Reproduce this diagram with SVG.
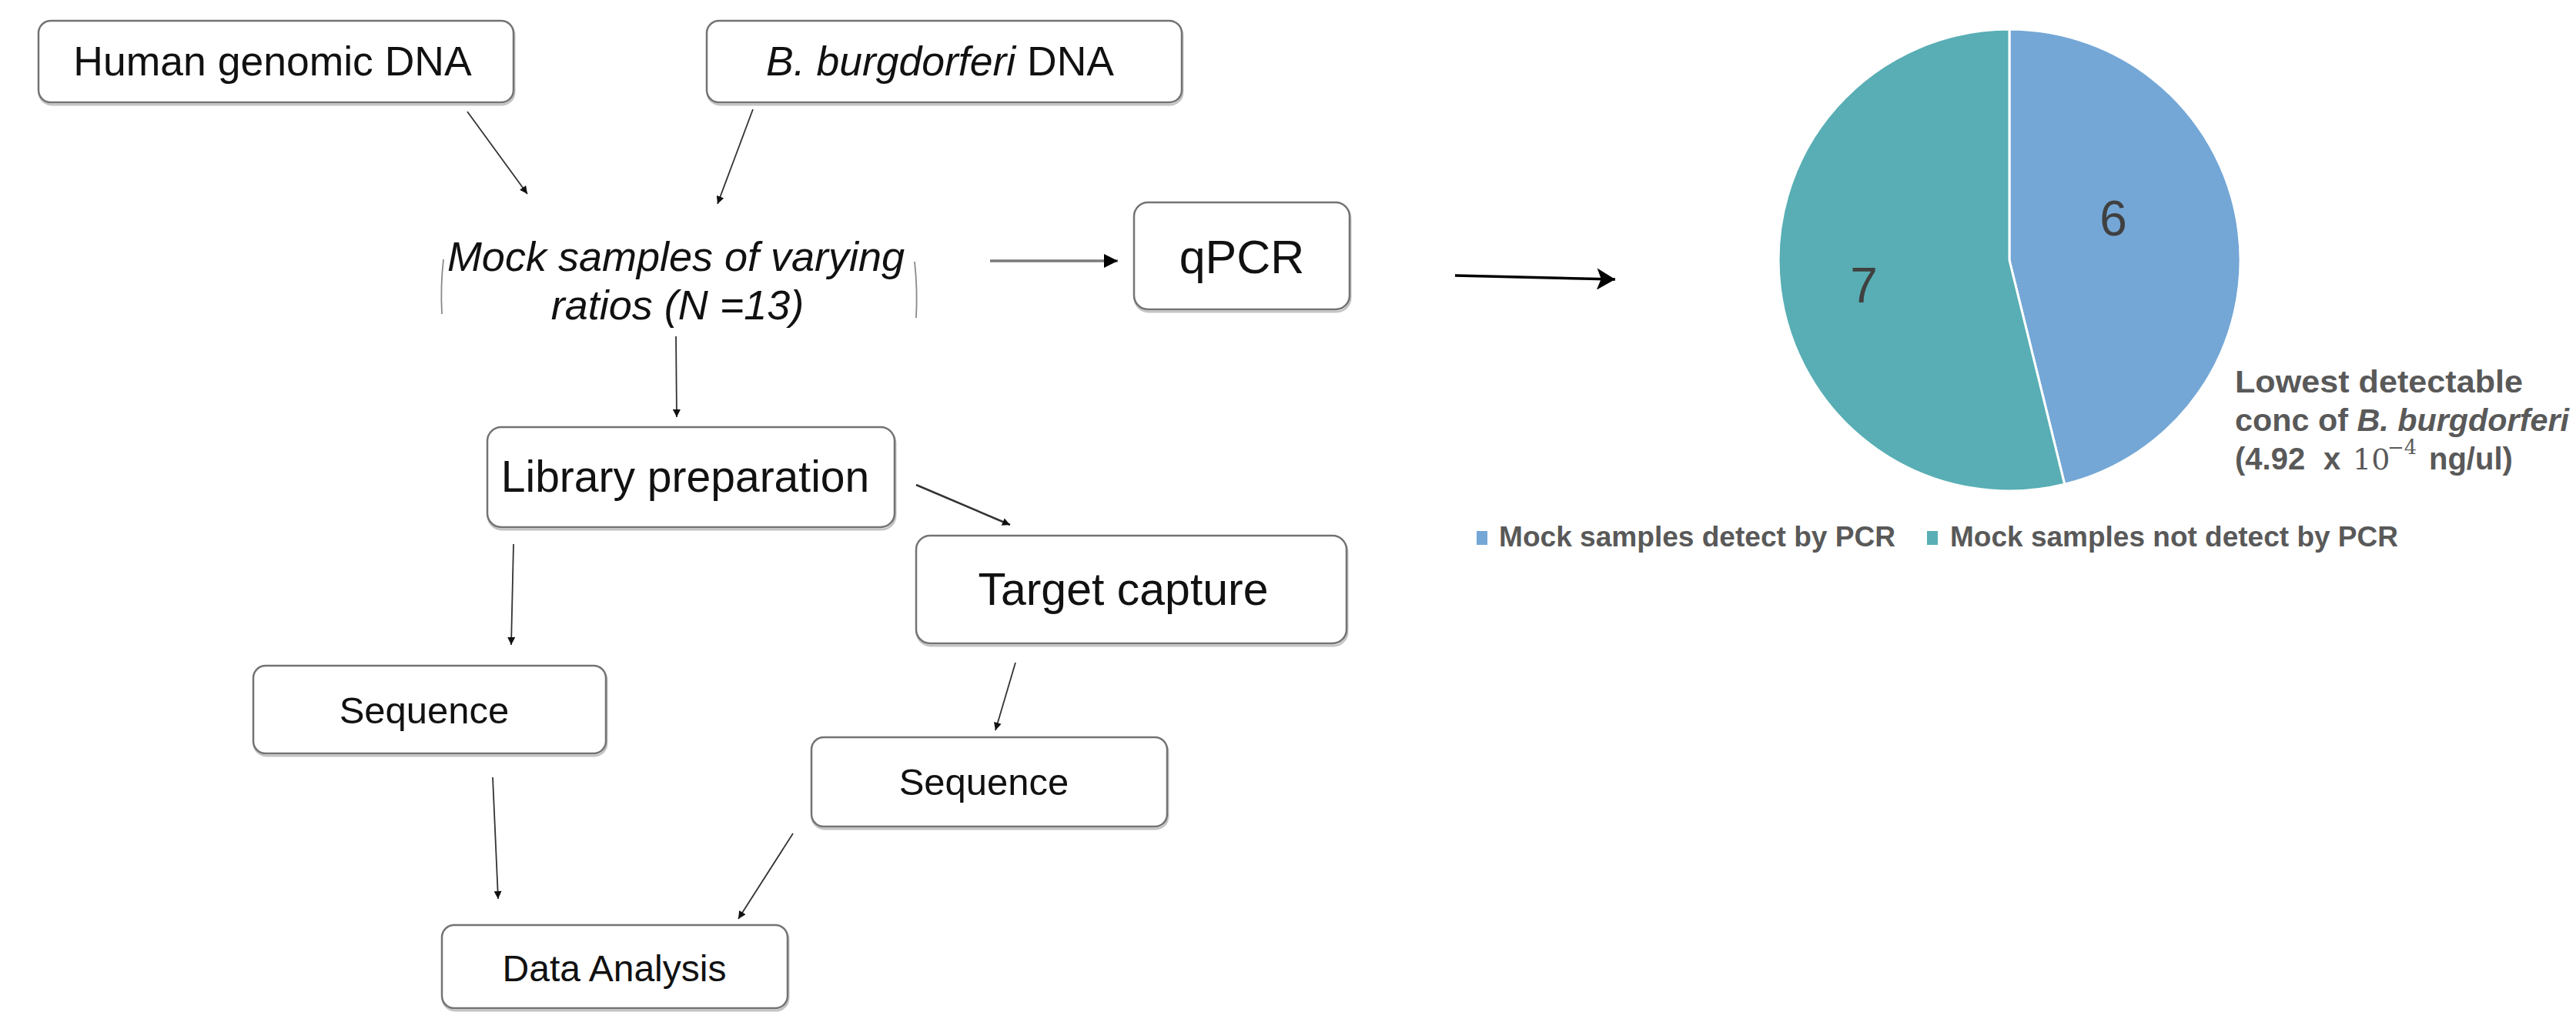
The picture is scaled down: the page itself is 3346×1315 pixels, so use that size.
<svg xmlns="http://www.w3.org/2000/svg" width="3346" height="1315" viewBox="0 0 3346 1315">
<style>
.box{fill:#fff;stroke:#737373;stroke-width:2.5}
.shadow{fill:none;stroke:#c4c4c4;stroke-width:3}
.lbl{font-family:"Liberation Sans",Arial,sans-serif;fill:#111;text-anchor:middle}
.it{font-style:italic}
.conn{stroke:#333;stroke-width:1.8;fill:none}
.thick{stroke:#7a7a7a;stroke-width:3.5;fill:none}
.big{stroke:#000;stroke-width:3.5;fill:none}
.br{stroke:#8a8a8a;stroke-width:1.8;fill:none}
.gr{font-family:"Liberation Sans",Arial,sans-serif;font-weight:bold;fill:#595959}
.num{font-family:"Liberation Sans",Arial,sans-serif;fill:#404040;text-anchor:middle;font-size:64px}
</style>
<defs>
<marker id="ah" viewBox="0 0 10 10" refX="10" refY="5" markerWidth="14" markerHeight="10" markerUnits="userSpaceOnUse" orient="auto"><path d="M0,0 L10,5 L0,10 z" fill="#111"/></marker>
<marker id="ahm" viewBox="0 0 10 10" refX="10" refY="5" markerWidth="18" markerHeight="18" markerUnits="userSpaceOnUse" orient="auto"><path d="M0,0 L10,5 L0,10 z" fill="#000"/></marker>
<marker id="ahb" viewBox="0 0 22 26" refX="22" refY="13" markerWidth="24" markerHeight="28" markerUnits="userSpaceOnUse" orient="auto"><path d="M0,0 L22,13 L0,26 L5,13 z" fill="#000"/></marker>
</defs>
<rect width="3346" height="1315" fill="#fff"/>

<g id="connectors">
<line class="conn" x1="607" y1="145" x2="685" y2="252" marker-end="url(#ah)"/>
<line class="conn" x1="978" y1="142" x2="932" y2="265" marker-end="url(#ah)"/>
<line class="conn" x1="878" y1="437" x2="879" y2="542" marker-end="url(#ah)"/>
<line class="thick" x1="1286" y1="339" x2="1452" y2="339" marker-end="url(#ahm)"/>
<line class="conn" style="stroke-width:2.5" x1="1190" y1="630" x2="1312" y2="682" marker-end="url(#ah)"/>
<line class="conn" x1="667" y1="707" x2="664" y2="838" marker-end="url(#ah)"/>
<line class="conn" x1="1319" y1="861" x2="1293" y2="949" marker-end="url(#ah)"/>
<line class="conn" x1="640" y1="1010" x2="647" y2="1168" marker-end="url(#ah)"/>
<line class="conn" x1="1030" y1="1083" x2="959" y2="1194" marker-end="url(#ah)"/>
<line class="big" x1="1890" y1="358" x2="2098" y2="363" marker-end="url(#ahb)"/>
</g>

<g id="human-dna">
<rect class="shadow" x="51" y="30" width="617" height="106" rx="16"/>
<rect class="box" x="50" y="27" width="617" height="106" rx="16"/>
<text class="lbl" x="354" y="98" font-size="53.5">Human genomic DNA</text>
</g>

<g id="bb-dna">
<rect class="shadow" x="919" y="30" width="617" height="106" rx="16"/>
<rect class="box" x="918" y="27" width="617" height="106" rx="16"/>
<text class="lbl" x="1221" y="98" font-size="53.5"><tspan class="it">B. burgdorferi</tspan> DNA</text>
</g>

<g id="mock-samples">
<path class="br" d="M576,337 Q572,372 574,408"/>
<path class="br" d="M1188,340 Q1192,376 1190,413"/>
<text class="lbl it" x="878" y="352" font-size="54">Mock samples of varying</text>
<text class="lbl it" x="880" y="415" font-size="54">ratios (N =13)</text>
</g>

<g id="qpcr">
<rect class="shadow" x="1474" y="266" width="280" height="139" rx="18"/>
<rect class="box" x="1473" y="263" width="280" height="139" rx="18"/>
<text class="lbl" x="1613" y="355" font-size="61">qPCR</text>
</g>

<g id="library-prep">
<rect class="shadow" x="634" y="558" width="529" height="130" rx="18"/>
<rect class="box" x="633" y="555" width="529" height="130" rx="18"/>
<text class="lbl" x="890" y="639" font-size="57">Library preparation</text>
</g>

<g id="target-capture">
<rect class="shadow" x="1191" y="699" width="559" height="140" rx="18"/>
<rect class="box" x="1190" y="696" width="559" height="140" rx="18"/>
<text class="lbl" x="1459" y="786" font-size="59">Target capture</text>
</g>

<g id="sequence-1">
<rect class="shadow" x="330" y="868" width="458" height="114" rx="16"/>
<rect class="box" x="329" y="865" width="458" height="114" rx="16"/>
<text class="lbl" x="551" y="940" font-size="49">Sequence</text>
</g>

<g id="sequence-2">
<rect class="shadow" x="1055" y="961" width="462" height="116" rx="16"/>
<rect class="box" x="1054" y="958" width="462" height="116" rx="16"/>
<text class="lbl" x="1278" y="1033" font-size="49">Sequence</text>
</g>

<g id="data-analysis">
<rect class="shadow" x="575" y="1205" width="449" height="108" rx="16"/>
<rect class="box" x="574" y="1202" width="449" height="108" rx="16"/>
<text class="lbl" x="798" y="1275" font-size="48">Data Analysis</text>
</g>

<g id="pie-chart">
<path d="M2610,338 L2610,38 A300,300 0 0 1 2681.8,629.3 Z" fill="#74A7D6" stroke="#fff" stroke-width="3"/>
<path d="M2610,338 L2681.8,629.3 A300,300 0 1 1 2610,38 Z" fill="#58AEB4" stroke="#fff" stroke-width="3"/>
<text class="num" x="2745" y="306">6</text>
<text class="num" x="2421" y="393">7</text>
</g>

<g id="annotation">
<text class="gr" x="2903" y="510" font-size="40" textLength="374" lengthAdjust="spacingAndGlyphs">Lowest detectable</text>
<text class="gr" x="2903" y="560" font-size="40" textLength="434" lengthAdjust="spacingAndGlyphs">conc of <tspan font-style="italic">B. burgdorferi</tspan></text>
<text class="gr" x="2903" y="610" font-size="40">(4.92<tspan x="3018">x</tspan><tspan x="3056" font-family="'DejaVu Serif','Liberation Serif',serif" font-weight="normal" font-size="38">10</tspan><tspan x="3101" dy="-20" font-family="'DejaVu Serif','Liberation Serif',serif" font-weight="normal" font-size="26">−4</tspan><tspan x="3155" dy="20">ng/ul)</tspan></text>
</g>

<g id="legend">
<rect x="1918" y="690" width="14" height="18" fill="#74A7D6"/>
<text class="gr" x="1947" y="710" font-size="37" textLength="515" lengthAdjust="spacingAndGlyphs">Mock samples detect by PCR</text>
<rect x="2503" y="690" width="14" height="18" fill="#58AEB4"/>
<text class="gr" x="2533" y="710" font-size="37" textLength="582" lengthAdjust="spacingAndGlyphs">Mock samples not detect by PCR</text>
</g>
</svg>
